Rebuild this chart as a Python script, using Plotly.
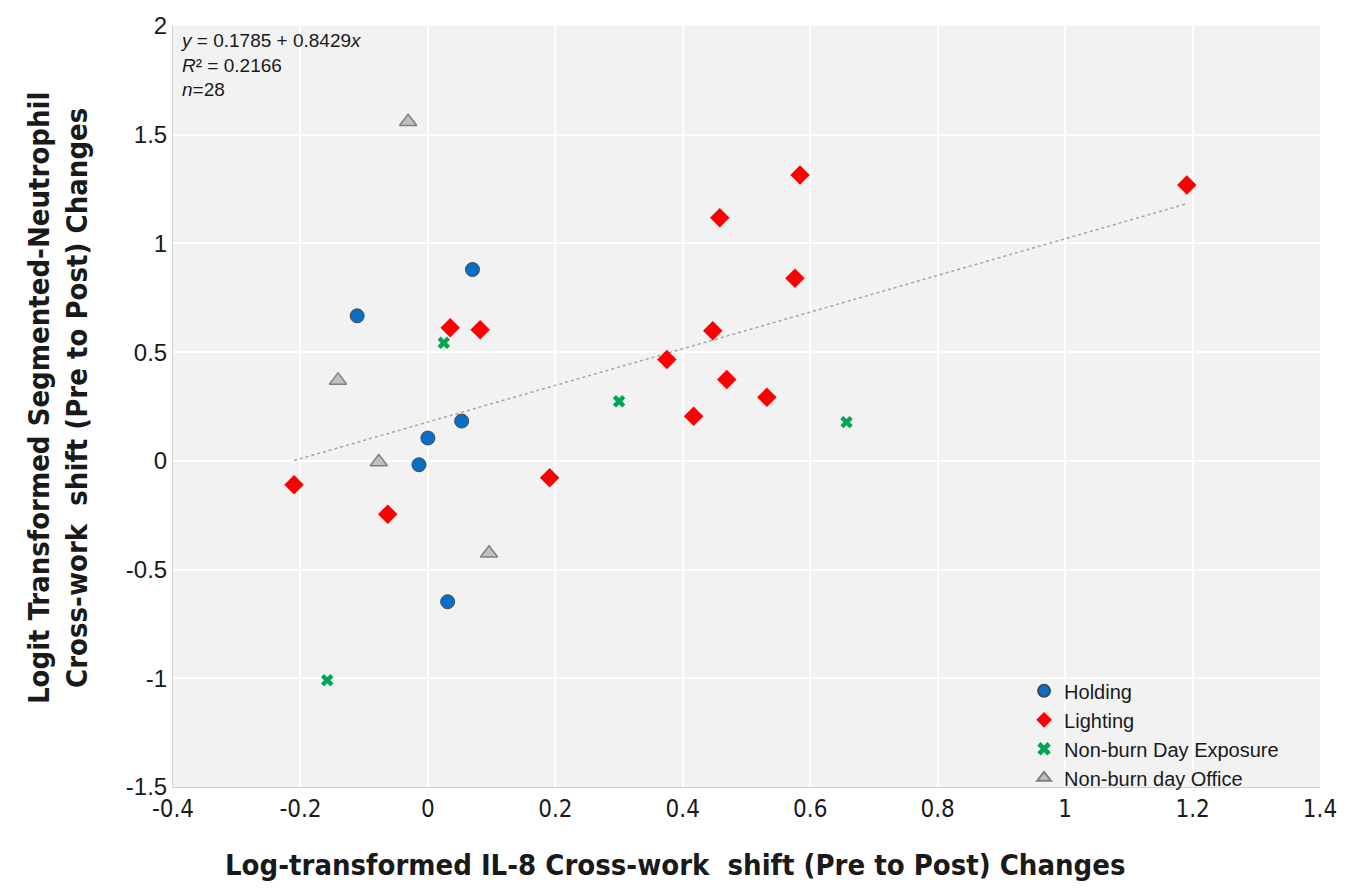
import plotly.graph_objects as go

# Data
holding_x = [-0.111, 0.070, 0.053, 0.000, -0.014, 0.031]
holding_y = [0.667, 0.880, 0.183, 0.105, -0.018, -0.648]

lighting_x = [-0.210, -0.063, 0.035, 0.082, 0.191, 0.447, 0.375, 0.469, 0.532, 0.417, 0.584, 0.458, 0.576, 1.191]
lighting_y = [-0.110, -0.245, 0.612, 0.603, -0.078, 0.598, 0.466, 0.374, 0.292, 0.205, 1.315, 1.118, 0.840, 1.269]

exposure_x = [0.025, 0.300, 0.657, -0.158]
exposure_y = [0.543, 0.274, 0.178, -1.009]

office_x = [-0.031, -0.141, -0.077, 0.096]
office_y = [1.560, 0.370, -0.005, -0.425]

intercept = 0.1785
slope = 0.8429
r2 = 0.2166
n_obs = 28

x_ticks = [-0.4, -0.2, 0, 0.2, 0.4, 0.6, 0.8, 1, 1.2, 1.4]
x_tick_labels = ["-0.4", "-0.2", "0", "0.2", "0.4", "0.6", "0.8", "1", "1.2", "1.4"]
y_ticks = [-1.5, -1, -0.5, 0, 0.5, 1, 1.5, 2]
y_tick_labels = ["-1.5", "-1", "-0.5", "0", "0.5", "1", "1.5", "2"]

x_title = "Log-transformed IL-8 Cross-work  shift (Pre to Post) Changes"
y_title = "Logit Transformed Segmented-Neutrophil<br>Cross-work  shift (Pre to Post) Changes"

all_x = holding_x + lighting_x + exposure_x + office_x
trend_x = [min(all_x), max(all_x)]
trend_y = [intercept + slope * v for v in trend_x]

NARROW = "DejaVu Sans Condensed, Liberation Sans Narrow, Arial Narrow, Liberation Sans, Arial"
REG = "Liberation Sans, Arial"

fig = go.Figure()

fig.add_trace(go.Scatter(
    x=trend_x, y=trend_y, mode="lines",
    line=dict(color="#a6a6a6", width=1.5, dash="dot"),
    showlegend=False, hoverinfo="skip"))

fig.add_trace(go.Scatter(
    x=holding_x, y=holding_y, mode="markers", name="Holding",
    marker=dict(symbol="circle", size=14, color="#0A6EC2",
                line=dict(color="#3a4a5a", width=1))))
fig.add_trace(go.Scatter(
    x=lighting_x, y=lighting_y, mode="markers", name="Lighting",
    marker=dict(symbol="diamond", size=15, color="#FF0000",
                line=dict(color="#FF0000", width=0))))
fig.add_trace(go.Scatter(
    x=exposure_x, y=exposure_y, mode="markers", name="Non-burn Day Exposure",
    marker=dict(symbol="x", size=11, color="#00A650",
                line=dict(width=0))))
fig.add_trace(go.Scatter(
    x=office_x, y=office_y, mode="markers", name="Non-burn day Office",
    marker=dict(symbol="triangle-up", size=15, color="#C0C0C0",
                line=dict(color="#808080", width=1.5))))

fig.add_annotation(
    xref="paper", yref="paper", x=0.004, y=0.998,
    xanchor="left", yanchor="top", align="left", showarrow=False,
    text=(f"<i>y</i> = {intercept} + {slope}<i>x</i><br>"
          f"<i>R</i>² = {r2}<br><i>n</i>={n_obs}"),
    font=dict(family=REG, size=19, color="#1a1a1a"))

# axis titles placed as annotations (positions in pixels relative to the plot area)
fig.add_annotation(
    xref="paper", yref="paper", x=(675 - 173) / 1147, y=(787 - 866) / 767,
    xanchor="center", yanchor="middle", showarrow=False,
    text=f"<b>{x_title}</b>",
    font=dict(family=NARROW, size=29, color="#1a1a1a"))
fig.add_annotation(
    xref="paper", yref="paper", x=(58 - 173) / 1147, y=(787 - 395) / 767,
    xanchor="center", yanchor="middle", showarrow=False, textangle=-90,
    text=f"<b>{y_title}</b>",
    font=dict(family=NARROW, size=29, color="#1a1a1a"))

fig.update_layout(
    width=1363, height=893,
    margin=dict(l=173, r=43, t=20, b=106),
    paper_bgcolor="white", plot_bgcolor="#F2F2F2",
    font=dict(family=REG, color="#1a1a1a"),
    legend=dict(
        x=0.742, y=0.152, xanchor="left", yanchor="top",
        bgcolor="rgba(0,0,0,0)", font=dict(family=REG, size=20, color="#1a1a1a"),
        tracegroupgap=0, itemsizing="constant"),
    xaxis=dict(
        range=[-0.4, 1.4], tickvals=x_ticks, ticktext=x_tick_labels,
        showgrid=True, gridcolor="white", gridwidth=2, zeroline=False,
        showline=True, linecolor="#d0d0d0", linewidth=1, ticks="",
        tickfont=dict(family=NARROW, size=24)),
    yaxis=dict(
        range=[-1.5, 2], tickvals=y_ticks, ticktext=y_tick_labels,
        showgrid=True, gridcolor="white", gridwidth=2, zeroline=False,
        showline=True, linecolor="#d0d0d0", linewidth=1, ticks="",
        tickfont=dict(family=REG, size=24)),
)

fig.write_html("out.html")
